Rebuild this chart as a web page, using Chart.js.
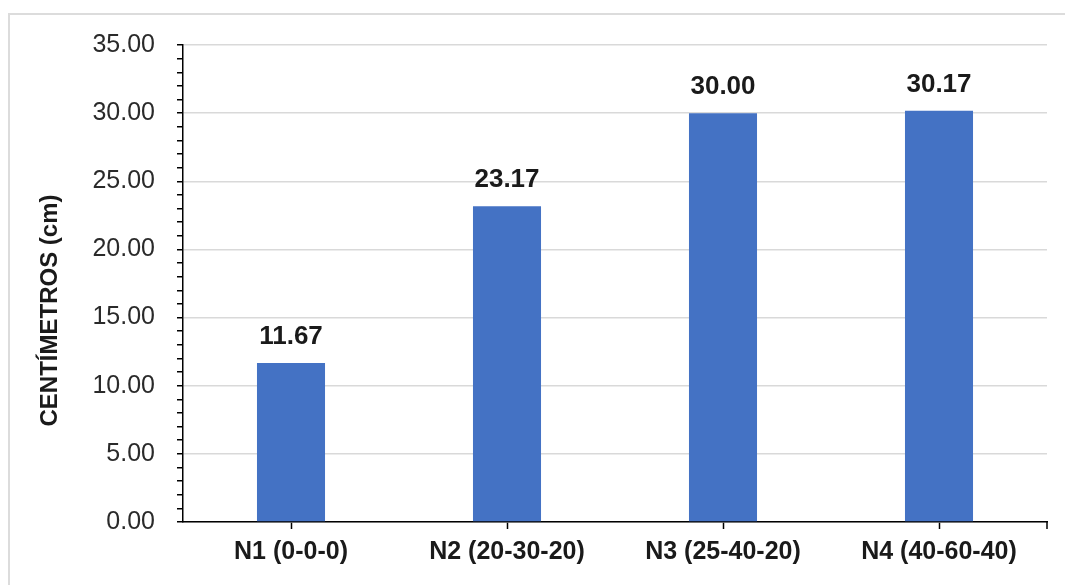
<!DOCTYPE html>
<html>
<head>
<meta charset="utf-8">
<script src="https://cdn.jsdelivr.net/npm/chart.js@4.4.1/dist/chart.umd.min.js"></script>
<style>
  html, body { margin: 0; padding: 0; background: #ffffff; overflow: hidden; }
  #wrap { position: relative; width: 1065px; height: 585px; }
  #frame { position: absolute; left: 8px; top: 13px; width: 1100px; height: 620px;
           border-left: 2px solid #dcdcdc; border-top: 2px solid #dcdcdc; }
  canvas { position: absolute; left: 0; top: 0; }
</style>
</head>
<body>
<div id="wrap">
  <div id="frame"></div>
  <canvas id="chart" width="1065" height="585"></canvas>
</div>
<script>
// Treatments (N doses) and mean plant height in cm
const categories = ['N1 (0-0-0)', 'N2 (20-30-20)', 'N3 (25-40-20)', 'N4 (40-60-40)'];
const heights = [11.67, 23.17, 30.00, 30.17];
const yTitle = 'CENTÍMETROS (cm)';
const yMax = 35;
const yMajorStep = 5;
const yMinorStep = 1;

const FONT = '"Liberation Sans", Arial, sans-serif';

// Value labels above each bar, axis title and the closing tick at the end of the x axis
const extras = {
  id: 'extras',
  afterDatasetsDraw(chart) {
    const ctx = chart.ctx;
    const meta = chart.getDatasetMeta(0);
    ctx.save();
    ctx.font = 'bold 26px ' + FONT;
    ctx.fillStyle = '#1a1a1a';
    ctx.textAlign = 'center';
    ctx.textBaseline = 'alphabetic';
    meta.data.forEach((bar, i) => {
      ctx.fillText(heights[i].toFixed(2), bar.x, bar.y - 19);
    });
    ctx.restore();
  },
  afterDraw(chart) {
    const ctx = chart.ctx;
    const area = chart.chartArea;
    ctx.save();
    // rotated y-axis title
    ctx.translate(area.left - 133, (area.top + area.bottom) / 2 + 27);
    ctx.rotate(-Math.PI / 2);
    ctx.font = 'bold 24px ' + FONT;
    ctx.fillStyle = '#1a1a1a';
    ctx.textAlign = 'center';
    ctx.textBaseline = 'middle';
    ctx.fillText(yTitle, 0, 0);
    ctx.restore();
    // end tick on the x axis
    ctx.save();
    ctx.strokeStyle = '#000000';
    ctx.lineWidth = 1.5;
    ctx.beginPath();
    ctx.moveTo(area.right, area.bottom);
    ctx.lineTo(area.right, area.bottom + 7);
    ctx.stroke();
    ctx.restore();
  }
};

new Chart(document.getElementById('chart'), {
  type: 'bar',
  data: {
    labels: categories,
    datasets: [{
      data: heights,
      backgroundColor: '#4472C4',
      borderWidth: 0,
      categoryPercentage: 1.0,
      barPercentage: 0.315
    }]
  },
  options: {
    responsive: false,
    animation: false,
    devicePixelRatio: 1,
    layout: { padding: { top: 45, right: 18, left: 0, bottom: 0 } },
    plugins: { legend: { display: false }, tooltip: { enabled: false } },
    scales: {
      x: {
        grid: {
          offset: false,
          drawOnChartArea: false,
          drawTicks: true,
          tickLength: 7,
          tickColor: '#000000',
          tickWidth: 1.5
        },
        border: { display: true, color: '#000000', width: 1.5 },
        ticks: {
          color: '#1a1a1a',
          font: { family: FONT, size: 25, weight: 'bold' },
          padding: 8,
          maxRotation: 0,
          autoSkip: false
        },
        afterFit(scale) { scale.height = 63; }
      },
      y: {
        min: 0,
        max: yMax,
        grid: {
          color: (c) => (c.tick && Math.abs(c.tick.value % yMajorStep) < 1e-6) ? '#d9d9d9' : 'rgba(0,0,0,0)',
          lineWidth: 1.5,
          drawTicks: true,
          tickLength: 6,
          tickColor: '#000000',
          tickWidth: 1.5
        },
        border: { display: true, color: '#000000', width: 1.5 },
        ticks: {
          stepSize: yMinorStep,
          autoSkip: false,
          color: '#2a2a2a',
          font: { family: FONT, size: 25 },
          padding: 22,
          callback: (v) => (Math.abs(v % yMajorStep) < 1e-6) ? Number(v).toFixed(2) : ''
        },
        afterFit(scale) { scale.width = 183; }
      }
    }
  },
  plugins: [extras]
});
</script>
</body>
</html>
